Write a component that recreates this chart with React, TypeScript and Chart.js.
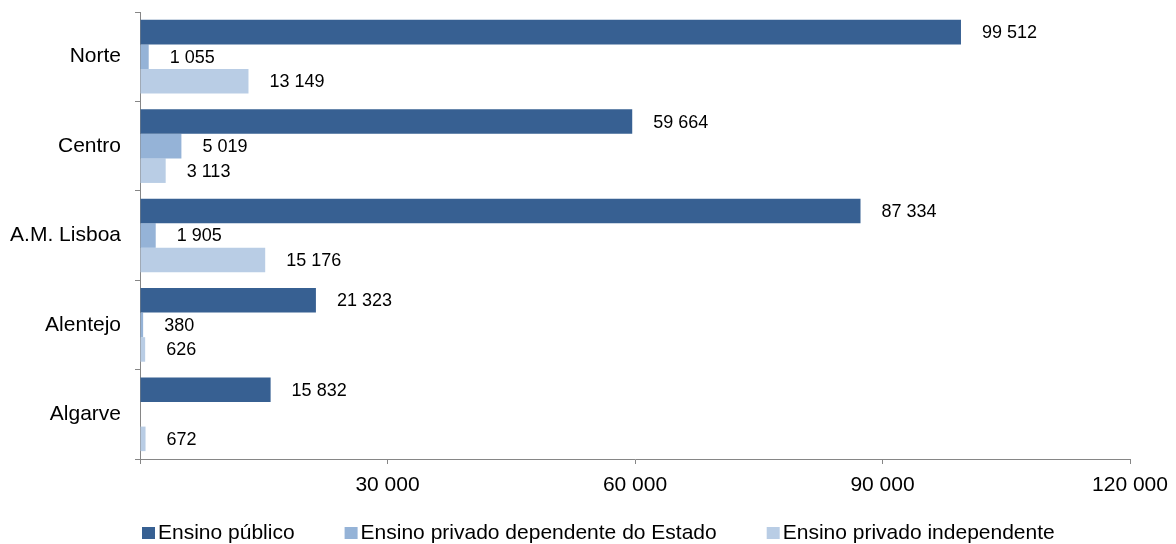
import React, { useEffect, useRef } from 'react';
import { Chart, registerables } from 'chart.js';

Chart.register(...registerables);

const categories = ['Norte', 'Centro', 'A.M. Lisboa', 'Alentejo', 'Algarve'];
const ensinoPublico = [99512, 59664, 87334, 21323, 15832];
const privadoDependente = [1055, 5019, 1905, 380, null];
const privadoIndependente = [13149, 3113, 15176, 626, 672];
const seriesNames = ['Ensino público', 'Ensino privado dependente do Estado', 'Ensino privado independente'];
const seriesColors = ['#376092', '#95B3D7', '#B9CDE5'];
const xTickValues = [0, 30000, 60000, 90000, 120000];

const FONT = "'Liberation Sans', Arial, sans-serif";
const fmt = (v: number) => String(v).replace(/\B(?=(\d{3})+(?!\d))/g, ' ');

const valueLabels = {
  id: 'valueLabels',
  afterDatasetsDraw(chart: any) {
    const ctx = chart.ctx;
    ctx.save();
    ctx.font = `18px ${FONT}`;
    ctx.fillStyle = '#000000';
    ctx.textAlign = 'left';
    ctx.textBaseline = 'middle';
    chart.data.datasets.forEach((ds: any, i: number) => {
      const meta = chart.getDatasetMeta(i);
      meta.data.forEach((el: any, j: number) => {
        const v = ds.data[j];
        if (v == null) return;
        ctx.fillText(fmt(v), el.x + 21, el.y + 1);
      });
    });
    ctx.restore();
  },
};

const customLegend = {
  id: 'customLegend',
  afterDraw(chart: any) {
    const ctx = chart.ctx;
    ctx.save();
    ctx.font = `21px ${FONT}`;
    ctx.textBaseline = 'middle';
    ctx.textAlign = 'left';
    let x = 142;
    const y = 533;
    chart.data.datasets.forEach((ds: any) => {
      ctx.fillStyle = ds.backgroundColor;
      ctx.fillRect(x, y - 6, 13, 12);
      ctx.fillStyle = '#000000';
      ctx.fillText(ds.label, x + 16, y);
      x += 16 + ctx.measureText(ds.label).width + 50;
    });
    ctx.restore();
  },
};

export default function App() {
  const canvasRef = useRef<HTMLCanvasElement | null>(null);

  useEffect(() => {
    if (!canvasRef.current) return;
    const seriesData = [ensinoPublico, privadoDependente, privadoIndependente];
    const chart = new Chart(canvasRef.current, {
      type: 'bar',
      data: {
        labels: categories,
        datasets: seriesData.map((d, i) => ({
          label: seriesNames[i],
          data: d,
          backgroundColor: seriesColors[i],
          borderWidth: 0,
          barPercentage: 1,
          categoryPercentage: 0.824,
        })),
      },
      options: {
        indexAxis: 'y',
        animation: false,
        responsive: true,
        maintainAspectRatio: false,
        layout: { padding: { left: 0, top: 12, right: 46, bottom: 0 } },
        plugins: {
          legend: { display: false },
          tooltip: { enabled: false },
        },
        scales: {
          x: {
            type: 'linear',
            min: 0,
            max: 120000,
            afterBuildTicks: (scale: any) => {
              scale.ticks = xTickValues.map((v) => ({ value: v }));
            },
            afterFit: (scale: any) => {
              scale.height = 85;
              scale.paddingLeft = 0;
              scale.paddingRight = 0;
            },
            grid: {
              drawOnChartArea: false,
              drawTicks: true,
              tickLength: 5,
              color: '#868686',
            },
            border: { display: true, color: '#868686', width: 1 },
            ticks: {
              font: { family: FONT, size: 21 },
              color: '#000000',
              padding: 9,
              maxRotation: 0,
              autoSkip: false,
              callback: (v: any) => (v === 0 ? '' : fmt(Number(v))),
            },
          },
          y: {
            type: 'category',
            afterFit: (scale: any) => {
              scale.width = 140;
              scale.paddingTop = 0;
              scale.paddingBottom = 0;
            },
            grid: {
              offset: true,
              drawOnChartArea: false,
              drawTicks: true,
              tickLength: 5,
              color: '#868686',
            },
            border: { display: true, color: '#868686', width: 1 },
            ticks: {
              font: { family: FONT, size: 21 },
              color: '#000000',
              padding: 14,
              autoSkip: false,
            },
          },
        },
      },
      plugins: [valueLabels, customLegend],
    } as any);
    return () => chart.destroy();
  }, []);

  return (
    <div style={{ position: 'absolute', left: 0, top: 0, width: 1176, height: 544, background: '#ffffff' }}>
      <canvas ref={canvasRef} />
    </div>
  );
}
